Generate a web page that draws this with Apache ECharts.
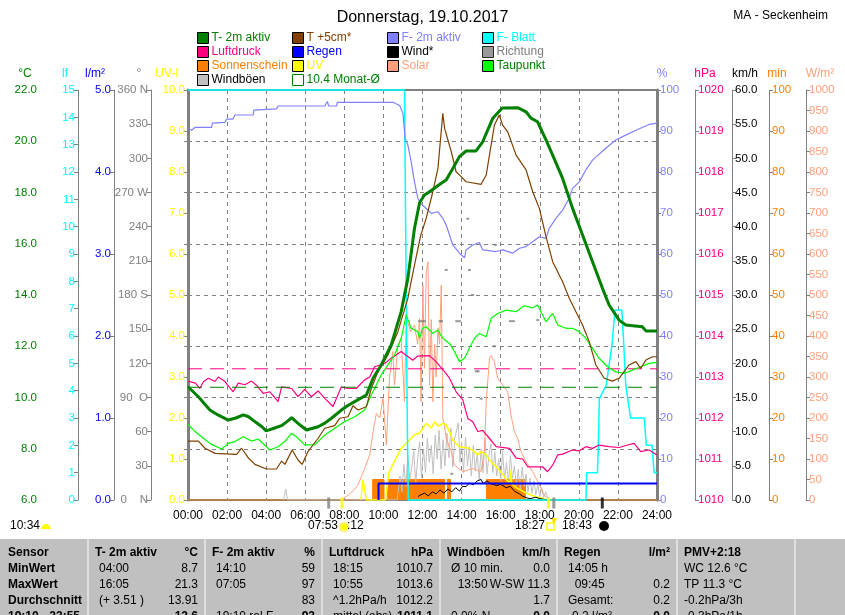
<!DOCTYPE html>
<html><head><meta charset="utf-8">
<script src="https://cdn.jsdelivr.net/npm/echarts@6/dist/echarts.min.js"></script>
<style>html,body{margin:0;padding:0;background:#fff}#c{width:845px;height:615px}</style>
</head><body><div id="c"></div>
<script>
// ---------- data (time in hours, value) ----------
const tempT2 = [[0,10.42],[0.53,10.03],[1.12,9.51],[1.53,9.32],[2.06,9.12],[2.45,9.2],[2.83,9.32],[3.1,9.25],[3.42,9.06],[3.8,8.85],[4.0,8.7],[4.4,8.8],[4.78,8.9],[5.05,9.05],[5.3,9.21],[5.63,8.99],[6.06,8.73],[6.66,8.86],[7.0,9.0],[7.34,9.19],[7.85,9.51],[8.2,9.7],[8.53,9.84],[9.13,10.1],[9.47,10.75],[9.89,11.27],[10.4,12.05],[10.91,13.35],[11.25,14.65],[11.59,16.6],[11.85,17.6],[12.1,17.9],[12.36,18.03],[12.96,18.36],[13.21,18.49],[13.55,18.94],[13.89,19.4],[14.23,19.62],[14.74,19.62],[15.08,19.98],[15.6,20.9],[16.08,21.3],[16.87,21.31],[17.3,21.15],[17.55,20.9],[17.89,20.76],[18.32,20.05],[18.66,19.46],[19.17,18.55],[19.68,17.38],[20.19,16.34],[20.7,15.3],[21.21,14.26],[21.55,13.61],[22.06,13.02],[22.4,12.83],[23.25,12.76],[23.43,12.6],[24,12.6]];
const tempT5 = [[0,8.3],[0.53,8.3],[0.87,8.02],[1.38,7.82],[2.49,7.78],[2.74,8.02],[3.08,7.65],[3.42,7.39],[4.02,7.21],[4.53,7.21],[4.79,7.52],[4.96,7.39],[5.33,7.95],[5.63,7.56],[5.84,7.39],[6.14,7.89],[6.66,8.41],[7.0,8.8],[7.51,8.9],[7.76,9.19],[8.19,9.25],[8.44,9.68],[8.7,9.51],[9.13,9.64],[9.38,10.36],[9.72,11.0],[10.23,11.66],[10.74,12.57],[11.25,13.87],[11.59,15.17],[11.9,16.3],[12.19,17.0],[12.53,18.03],[12.79,18.94],[13.04,21.09],[13.13,20.5],[13.47,19.6],[13.72,18.81],[13.98,18.62],[14.23,18.42],[15.0,18.32],[15.26,18.68],[15.51,19.85],[15.68,20.63],[15.93,21.02],[16.1,20.63],[16.36,20.37],[16.79,19.46],[17.3,18.88],[17.64,18.03],[17.98,17.38],[18.32,16.28],[18.66,15.3],[19.17,14.52],[19.51,13.87],[19.85,13.35],[20.19,12.83],[20.53,12.18],[20.87,11.27],[21.3,10.75],[21.72,10.64],[22.06,10.75],[22.57,11.27],[22.92,11.4],[23.17,11.14],[23.43,11.46],[23.77,11.59],[24,11.59]];
const dewPoint = [[0,8.95],[0.36,8.67],[0.78,8.41],[1.21,8.17],[1.72,7.99],[2.06,8.21],[2.4,8.28],[2.83,8.47],[3.25,8.3],[3.59,8.38],[4.19,7.95],[4.61,8.08],[4.96,8.28],[5.29,8.6],[5.55,8.47],[5.97,8.15],[6.49,8.15],[7.0,8.54],[7.51,8.8],[8.02,9.06],[8.53,9.25],[9.04,9.51],[9.38,10.1],[9.89,10.88],[10.23,11.27],[10.57,11.66],[10.91,12.31],[11.17,13.22],[11.42,12.7],[11.76,12.57],[11.85,12.31],[12.0,12.7],[12.19,12.76],[12.53,12.5],[12.79,12.63],[13.04,12.31],[13.38,12.11],[13.64,11.79],[13.89,11.4],[14.15,11.53],[14.4,11.92],[14.66,12.31],[14.91,12.5],[15.26,12.37],[15.51,13.09],[15.85,13.28],[16.28,13.41],[16.79,13.35],[17.21,13.58],[17.64,13.5],[17.89,13.61],[18.32,12.96],[18.66,13.28],[18.92,12.83],[19.34,12.7],[19.68,12.7],[20.02,12.57],[20.36,12.31],[20.7,11.92],[21.04,11.53],[21.47,11.2],[21.89,11.0],[22.32,10.94],[22.74,11.07],[23.17,11.2],[23.6,11.33],[24,11.37]];
const humidity = [[0,90.65],[0.19,90.2],[0.36,90.9],[1.21,90.9],[1.24,91.9],[1.89,92.1],[1.98,92.9],[2.3,92.9],[2.4,93.9],[3.34,93.9],[3.37,95.1],[4.53,95.4],[4.61,96.1],[7.0,96.1],[7.13,97.2],[7.2,96.1],[7.6,96.1],[7.64,97.0],[10.49,97.0],[10.83,96.2],[11.0,94.3],[11.11,88.2],[11.25,86.6],[11.42,82.5],[11.59,77.6],[11.76,73.6],[11.9,72.4],[12.19,71.1],[12.45,69.9],[12.79,70.3],[13.04,68.7],[13.21,67.1],[13.55,62.2],[13.89,60.2],[14.15,59.1],[14.23,61.0],[14.57,62.2],[14.91,62.8],[15.08,61.0],[15.77,60.6],[16.1,61.0],[16.61,60.2],[16.96,61.4],[17.3,61.8],[17.64,63.0],[17.98,64.2],[18.32,63.8],[18.49,66.3],[18.83,68.7],[19.17,70.7],[19.51,73.6],[19.68,76.0],[20.02,77.6],[20.36,80.5],[20.7,82.9],[21.38,85.8],[21.89,87.8],[22.4,89.0],[22.92,90.2],[23.6,91.6],[24,91.9]];
const leafWet = [[0,15],[11.08,15],[11.15,9],[11.22,3],[11.27,0],[20.36,0],[20.4,1.0],[20.95,1.0],[21.0,2.0],[21.05,3.7],[21.4,4.2],[21.7,5.7],[21.85,6.95],[22.2,6.95],[22.3,5.7],[22.4,4.2],[22.65,3.0],[23.35,3.0],[23.45,2.0],[23.75,2.0],[23.85,1.0],[24,1.0]];
const pressure = [[0,1012.9],[0.38,1012.85],[0.6,1012.72],[0.8,1012.89],[1.04,1012.97],[1.38,1012.89],[1.55,1013.0],[1.89,1012.89],[2.31,1012.64],[2.57,1012.85],[2.91,1012.81],[3.25,1012.9],[3.5,1012.8],[3.85,1012.6],[4.19,1012.64],[4.61,1012.4],[4.79,1012.76],[5.3,1012.72],[5.63,1012.52],[5.97,1012.7],[6.31,1012.52],[6.66,1012.66],[7.0,1012.48],[7.42,1012.28],[7.85,1012.76],[8.19,1012.72],[8.61,1012.72],[9.04,1012.93],[9.3,1013.0],[9.55,1013.25],[10.06,1013.33],[10.4,1013.46],[10.91,1013.62],[11.25,1013.5],[11.5,1013.41],[11.76,1013.51],[12.36,1013.52],[12.7,1013.37],[13.13,1013.13],[13.38,1012.97],[13.72,1012.64],[14.06,1012.44],[14.32,1011.99],[14.57,1011.91],[14.83,1011.67],[15.08,1011.7],[15.43,1011.5],[15.77,1011.3],[16.45,1011.26],[16.79,1011.02],[17.13,1011.0],[17.38,1010.81],[18.15,1010.81],[18.4,1010.69],[18.66,1010.85],[18.92,1011.1],[19.17,1011.12],[19.68,1011.22],[20.02,1011.2],[20.36,1011.3],[20.7,1011.26],[21.04,1011.34],[21.55,1011.3],[22.06,1011.28],[22.4,1011.33],[22.83,1011.38],[23.17,1011.18],[23.6,1011.22],[24,1011.1]];
const rainSum = [[9.75,0],[9.75,0.2],[24,0.2]];
const uvIndex = [[8.85,0],[8.95,0.5],[9.05,0.5],[9.12,0],[10.1,0],[10.28,0.66],[10.55,0.93],[10.91,1.26],[11.25,1.42],[11.59,1.59],[11.85,1.63],[12.02,1.75],[12.19,1.87],[12.45,1.75],[12.62,1.91],[12.8,1.8],[13.04,1.87],[13.2,1.83],[13.38,1.67],[13.55,1.46],[13.89,1.3],[14.4,1.26],[14.66,1.18],[14.83,1.1],[15.0,1.18],[15.26,1.1],[15.51,0.93],[15.68,0.85],[15.93,0.73],[16.19,0.57],[16.36,0.45],[16.5,0.45],[16.53,0.75],[16.56,0.4],[16.79,0.3],[17.3,0.17],[17.81,0.08],[18.4,0]];
const solar = [[7.7,0],[8.0,5],[8.2,12],[8.5,25],[8.7,37],[9.04,77],[9.3,110],[9.47,167],[9.64,211],[9.81,200],[9.98,248],[10.15,134],[10.31,297],[10.48,362],[10.57,280],[10.74,378],[10.91,394],[11.08,240],[11.17,443],[11.4,410],[11.59,427],[11.75,380],[11.85,443],[11.93,240],[12.02,524],[12.1,321],[12.19,557],[12.28,581],[12.36,280],[12.45,440],[12.53,240],[12.62,380],[12.7,300],[12.79,420],[12.87,380],[12.96,524],[13.04,199],[13.13,180],[13.21,150],[13.47,118],[13.64,85],[14.06,69],[14.57,77],[14.99,69],[15.17,118],[15.26,240],[15.43,346],[15.51,352],[15.68,337],[15.85,297],[16.1,280],[16.36,264],[16.53,207],[16.7,167],[16.87,150],[17.04,118],[17.3,93],[17.64,69],[17.98,37],[18.23,12],[18.49,0]];
const windAvg = [[11.77,0.5],[11.9,0.73],[12.1,1.0],[12.3,0.6],[12.5,1.2],[12.7,0.9],[12.9,1.46],[13.1,1.0],[13.3,1.6],[13.5,1.2],[13.7,1.8],[13.89,1.3],[14.05,2.0],[14.23,1.95],[14.4,2.5],[14.6,2.2],[14.8,2.8],[15.0,3.0],[15.1,2.4],[15.3,2.8],[15.5,2.4],[15.6,2.6],[15.8,2.1],[16.0,2.3],[16.28,1.8],[16.5,2.0],[16.7,1.3],[16.96,0.9],[17.1,0.6],[17.3,0.34],[17.5,0.2],[17.8,0.4],[18.0,0.2],[18.2,0.1],[18.4,0]];
const windGust = [[4.9,0],[5.0,1.6],[5.1,0],[10.7,0],[10.85,3.5],[10.95,1.2],[11.05,5.2],[11.15,2.0],[11.25,6.5],[11.35,3.0],[11.45,4.8],[11.55,7.2],[11.65,2.5],[11.75,6.0],[11.85,8.5],[11.95,3.2],[12.05,7.5],[12.15,4.0],[12.25,9.0],[12.35,5.5],[12.45,8.0],[12.55,3.8],[12.65,9.5],[12.75,6.0],[12.85,10.2],[12.95,4.5],[13.05,8.8],[13.15,5.0],[13.25,9.8],[13.35,6.2],[13.45,10.5],[13.55,4.8],[13.65,9.0],[13.83,11.3],[13.92,5.5],[14.0,8.5],[14.1,4.0],[14.2,9.2],[14.3,5.0],[14.4,7.8],[14.5,3.5],[14.6,8.0],[14.7,4.2],[14.8,6.8],[14.9,3.0],[15.0,7.5],[15.1,4.0],[15.2,9.0],[15.3,3.8],[15.4,6.5],[15.5,8.2],[15.6,4.0],[15.7,7.0],[15.8,3.5],[15.9,6.0],[16.0,2.8],[16.1,7.2],[16.2,3.0],[16.3,5.5],[16.4,2.5],[16.5,6.5],[16.6,3.2],[16.7,5.0],[16.8,2.0],[16.9,4.5],[17.0,1.5],[17.1,4.8],[17.2,2.0],[17.3,3.8],[17.4,1.2],[17.5,3.2],[17.6,1.0],[17.7,2.8],[17.8,0.8],[17.9,2.2],[18.0,0.5],[18.1,1.8],[18.2,0.3],[18.3,1.2],[18.45,0]];
const windDir = [[11.85,157],[12.0,157],[12.1,157],[12.9,157],[12.97,157],[13.21,202],[13.5,23],[13.75,157],[13.9,157],[14.32,247],[14.4,202],[14.57,180],[14.75,113],[14.85,113],[15.0,89],[15.68,135],[15.73,224],[16.5,157],[16.65,157],[17.9,158]];
const sunStart = [9.45,10.2,13.27,15.27,16.67];
const sunEnd   = [10.03,13.13,13.43,16.62,17.27];
const sunMinutes = 5;
const monthAvgTemp = 10.4;
const monthAvgPressure = 1013.2;
const astroTimes = [7.2, 7.883, 18.45, 18.72, 21.2];
const hourTicks = [0,2,4,6,8,10,12,14,16,18,20,22,24];

const tableHead = ['Sensor','T- 2m aktiv','°C','F- 2m aktiv','%','Luftdruck','hPa','Windböen','km/h','Regen','l/m²','PMV+2:18'];
const tableRows = [
 ['MinWert','04:00','8.7','14:10','59','18:15','1010.7','Ø 10 min.','0.0','14:05 h','','WC 12.6 °C'],
 ['MaxWert','16:05','21.3','07:05','97','10:55','1013.6','  13:50','W-SW 11.3','  09:45','0.2','TP 11.3 °C'],
 ['Durchschnitt','(+ 3.51 )','13.91','','83','^1.2hPa/h','1012.2','','1.7','Gesamt:','0.2','-0.2hPa/3h'],
 ['19:10 - 23:55','','12.6','19:10 rel.F','93','mittel (abs)','1011.1','0.0% N','0.0','-0.2 l/m²','0.0','-0.3hPa/1h']
];

// ---------- build ----------
const sunData = [[0,0]];
sunStart.forEach((s,i)=>{ sunData.push([s,0],[s,sunMinutes],[sunEnd[i],sunMinutes],[sunEnd[i],0]); });
sunData.push([24,0]);

const FONT = '"Liberation Sans", Arial, sans-serif';
const FS = 11.5;
const gray = '#808080';
function yAx(pos, offset, min, max, interval, color, fmt, lineW) {
  return {
    type:'value', position:pos, offset:offset, min:min, max:max, interval:interval,
    axisLine:{show:true, lineStyle:{color:gray, width:lineW||1}},
    axisTick:{show:true, length:4, lineStyle:{color:gray}},
    axisLabel:{color:color, fontSize:FS, fontFamily:FONT, margin:3, formatter:fmt},
    splitLine:{show:false}
  };
}
const dirNames = {360:'360 N',270:'270 W',180:'180 S',90:'90  O',0:'0    N'};
const yAxes = [
  yAx('left',148,6,22,2,'#008000',v=>v.toFixed(1)),
  yAx('left',110,0,15,1,'#00FFFF',v=>String(v)),
  yAx('left',74,0,5,1,'#0000FF',v=>v.toFixed(1)),
  yAx('left',37,0,360,30,gray,v=>dirNames[v]!==undefined?dirNames[v]:String(v)),
  yAx('left',0,0,10,1,'#FFFF00',v=>v.toFixed(1),3),
  yAx('right',0,0,100,10,'#8080FF',v=>String(v),3),
  yAx('right',38,1010,1020,1,'#FF0080',v=>String(v)),
  yAx('right',75,0,60,5,'#000000',v=>v.toFixed(1)),
  yAx('right',112,0,100,10,'#FF8000',v=>String(v)),
  yAx('right',149,0,1000,50,'#FFA07A',v=>String(v))
];
yAxes[0].splitLine = {show:true, lineStyle:{color:gray, type:[4,4], width:1}};

function ln(name, data, yi, color, width, extra) {
  return Object.assign({name:name, type:'line', data:data, yAxisIndex:yi, symbol:'none',
    color:color, lineStyle:{color:color, width:width||1}, silent:true, animation:false}, extra||{});
}
const astroColors = [gray,'#FFFF00','#FFFF00',gray,'#000000'];

const series = [
  ln('Sonnenschein', sunData, 8, '#FF8000', 1, {areaStyle:{color:'#FF8000', opacity:1}, z:1}),
  ln('Windböen', windGust, 7, '#C0C0C0', 1, {z:2}),
  ln('Solar', solar, 9, '#FFA07A', 1, {z:3}),
  ln('UV', uvIndex, 4, '#FFFF00', 1.5, {z:3}),
  ln('Wind*', windAvg, 7, '#000000', 1, {z:4}),
  ln('Regen', rainSum, 2, '#0000FF', 2, {z:4}),
  {name:'Richtung', type:'scatter', yAxisIndex:3, data:windDir, symbol:'rect', symbolSize:[3,2], color:gray, itemStyle:{color:gray}, silent:true, animation:false, z:4},
  ln('F- Blatt', leafWet, 1, '#00FFFF', 1.5, {z:5, clip:false}),
  ln('Luftdruck', pressure, 6, '#FF0080', 1.2, {z:5}),
  ln('Luftdruck Monat-Ø', [[0,monthAvgPressure],[24,monthAvgPressure]], 6, '#FF0080', 1, {lineStyle:{color:'#FF0080', width:1, type:[14,8]}, z:5}),
  ln('F- 2m aktiv', humidity, 5, '#8080FF', 1.2, {z:5}),
  ln('Taupunkt', dewPoint, 0, '#00FF00', 1.2, {z:6}),
  ln('T +5cm*', tempT5, 0, '#804000', 1.2, {z:6}),
  ln('10.4 Monat-Ø', [[0,monthAvgTemp],[24,monthAvgTemp]], 0, '#008000', 1, {lineStyle:{color:'#008000', width:1, type:[14,8]}, z:6}),
  ln('T- 2m aktiv', tempT2, 0, '#008000', 3, {z:7}),
  {name:'astro', type:'scatter', yAxisIndex:4, data:astroTimes.map(t=>[t,0]), symbol:'rect', symbolSize:[3,11], symbolOffset:[0,3], clip:false, silent:true, animation:false, z:8,
   itemStyle:{color:p=>astroColors[p.dataIndex]}}
];

function legendCol(left, items) {
  return {
    orient:'vertical', left:left, top:31, icon:'rect', itemWidth:11, itemHeight:11, itemGap:0,
    selectedMode:false, padding:0,
    itemStyle:{borderColor:'#000', borderWidth:1},
    textStyle:{fontSize:12, fontFamily:FONT, lineHeight:14, padding:[0,0,0,-2]},
    data: items.map(it=>({name:it[0], itemStyle:{color:it[1], borderColor:it[3]||'#000', borderWidth:1}, textStyle:{color:it[2]}}))
  };
}
const legends = [
  legendCol(197, [['T- 2m aktiv','#008000','#008000'],['Luftdruck','#FF0080','#FF0080'],['Sonnenschein','#FF8000','#FF8000'],['Windböen','#C0C0C0','#000000']]),
  legendCol(292, [['T +5cm*','#804000','#804000'],['Regen','#0000FF','#0000FF'],['UV','#FFFF00','#FFFF00'],['10.4 Monat-Ø','rgba(0,0,0,0)','#008000','#008000']]),
  legendCol(387, [['F- 2m aktiv','#8080FF','#8080FF'],['Wind*','#000000','#000000'],['Solar','#FFA07A','#FFA07A']]),
  legendCol(482, [['F- Blatt','#00FFFF','#00FFFF'],['Richtung',gray,gray],['Taupunkt','#00FF00','#008000']])
];

// graphics
const G = [];
function txt(x,y,s,color,opt){ G.push(Object.assign({type:'text', x:x, y:y, silent:true, style:Object.assign({text:s, fill:color||'#000', font:'12px '+FONT, textAlign:'left', textVerticalAlign:'middle'}, opt||{})})); }
// axis units
[['°C',25,'#008000'],['lf',65,'#00FFFF'],['l/m²',95,'#0000FF'],['°',139,gray],['UV-I',167,'#FFFF00'],
 ['%',662,'#8080FF'],['hPa',705,'#FF0080'],['km/h',745,'#000000'],['min',777,'#FF8000'],['W/m²',820,'#FFA07A']]
 .forEach(a=>txt(a[1],74,a[0],a[2],{textAlign:'center'}));
// below axis
txt(10,526,'10:34','#000');
G.push({type:'sector', shape:{cx:46, cy:529, r:5, r0:0, startAngle:Math.PI, endAngle:Math.PI*2}, style:{fill:'#FFFF00'}, silent:true});
txt(308,526,'07:53','#000');
G.push({type:'circle', shape:{cx:344, cy:527, r:4.5}, style:{fill:'#FFFF00', stroke:'#FFF0A0', lineWidth:2}, silent:true});
txt(347,526,':12','#000');
txt(515,526,'18:27','#000');
G.push({type:'rect', shape:{x:547, y:523, width:7, height:7}, style:{fill:'none', stroke:'#FFFF00', lineWidth:1.5}, silent:true});
G.push({type:'polygon', shape:{points:[[551,518],[557,518],[554,525]]}, style:{fill:'#FFE000'}, silent:true});
txt(562,526,'18:43','#000');
G.push({type:'circle', shape:{cx:604, cy:526, r:5}, style:{fill:'#000'}, silent:true});
// table
G.push({type:'rect', shape:{x:0, y:539, width:845, height:76}, style:{fill:'#C0C0C0'}, silent:true, z:-1});
const colX = [0,88,205,322,440,557,677,795];
colX.slice(1).forEach(x=>G.push({type:'line', shape:{x1:x, y1:539, x2:x, y2:615}, style:{stroke:'#E8E8E8', lineWidth:1.5}, silent:true}));
const rowY = [553,569,585,601,617];
const BF = 'bold 12px '+FONT, NF = '12px '+FONT;
txt(8,rowY[0],tableHead[0],'#000',{font:BF});
for (let c=0;c<5;c++){
  txt(colX[c+1]+7,rowY[0],tableHead[1+2*c],'#000',{font:BF});
  txt(colX[c+2]-7,rowY[0],tableHead[2+2*c],'#000',{font:BF, textAlign:'right'});
}
txt(colX[6]+7,rowY[0],tableHead[11],'#000',{font:BF});
tableRows.forEach((r,ri)=>{
  const y = rowY[ri+1]; const last = ri===3;
  txt(8,y,r[0],'#000',{font:BF});
  for (let c=0;c<5;c++){
    txt(colX[c+1]+11,y,r[1+2*c],'#000',{font:NF});
    txt(colX[c+2]-7,y,r[2+2*c],'#000',{font:last?BF:NF, textAlign:'right'});
  }
  txt(colX[6]+7,y,r[11],'#000',{font:NF});
});

const option = {
  animation:false,
  backgroundColor:'#fff',
  title:[
    {text:'Donnerstag, 19.10.2017', left:'center', top:5, textStyle:{fontSize:16, fontWeight:'normal', color:'#000', fontFamily:FONT}},
    {text:'MA - Seckenheim', right:12, top:5, textStyle:{fontSize:12, fontWeight:'normal', color:'#000', fontFamily:FONT}}
  ],
  legend: legends,
  grid:{left:188, right:188, top:90, bottom:115, show:true, borderColor:gray, borderWidth:2, backgroundColor:'#fff'},
  xAxis:{type:'value', min:0, max:24, interval:2,
    axisLine:{show:true, lineStyle:{color:gray, width:1}}, axisTick:{show:false},
    axisLabel:{color:'#000', fontSize:12, fontFamily:FONT, margin:10,
      formatter:v=> hourTicks.indexOf(v)>=0 ? (v<10?'0':'')+v+':00' : ''},
    splitLine:{show:true, lineStyle:{color:gray, type:[4,4], width:1}}},
  yAxis: yAxes,
  series: series,
  graphic: G
};
const chart = echarts.init(document.getElementById('c'));
chart.setOption(option);
</script></body></html>
